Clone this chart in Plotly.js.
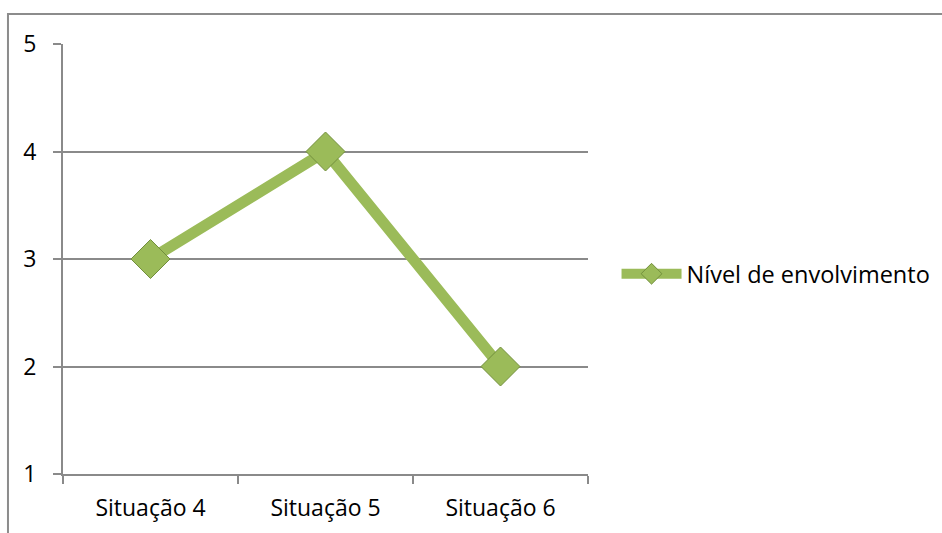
<!DOCTYPE html>
<html>
<head>
<meta charset="utf-8">
<script src="https://cdn.plot.ly/plotly-3.0.1.min.js"></script>
<style>html,body{margin:0;padding:0;background:#fff;}#chart{width:942px;height:533px;}</style>
</head>
<body>
<div id="chart"></div>
<script>
const categories = ["Situação 4", "Situação 5", "Situação 6"];
const values = [3, 4, 2];
const seriesName = "Nível de envolvimento";
const yTicks = [1, 2, 3, 4, 5];

const trace = {
  x: categories,
  y: values,
  name: seriesName,
  type: "scatter",
  mode: "lines+markers",
  line: {color: "#9bbb59", width: 11},
  marker: {symbol: "diamond", size: 30, color: "#9bbb59", line: {color: "#728f3c", width: 1}}
};

const layout = {
  width: 942, height: 533,
  margin: {l: 63, r: 354, t: 44, b: 59},
  paper_bgcolor: "#ffffff",
  plot_bgcolor: "#ffffff",
  font: {family: "Open Sans, sans-serif", size: 23, color: "#000"},
  showlegend: true,
  legend: {xref: "container", yref: "container", x: 0.6545, xanchor: "left", y: 0.486, yanchor: "middle",
           font: {size: 23.5}, itemwidth: 60, bgcolor: "rgba(0,0,0,0)"},
  xaxis: {
    type: "category", range: [-0.5, 2.5],
    tickson: "boundaries", ticks: "outside", ticklen: 8, tickcolor: "#8a8a8a", tickwidth: 2,
    showgrid: false, showline: true, linecolor: "#8a8a8a", linewidth: 2,
    zeroline: false, ticklabelstandoff: 12, tickfont: {size: 23}
  },
  yaxis: {
    range: [1, 5], tickvals: yTicks, ticks: "outside", ticklen: 8, tickcolor: "#8a8a8a", tickwidth: 2,
    showgrid: true, gridcolor: "#8a8a8a", gridwidth: 2,
    showline: true, linecolor: "#8a8a8a", linewidth: 2, zeroline: false, ticklabelstandoff: 12
  },
  shapes: [{
    type: "rect", xref: "paper", yref: "paper",
    x0: -0.1048, x1: 2, y0: -1, y1: 1.0698,
    line: {color: "#8c8c8c", width: 2}, fillcolor: "rgba(0,0,0,0)", layer: "below"
  }]
};

Plotly.newPlot("chart", [trace], layout, {displayModeBar: false, staticPlot: true});
</script>
</body>
</html>
